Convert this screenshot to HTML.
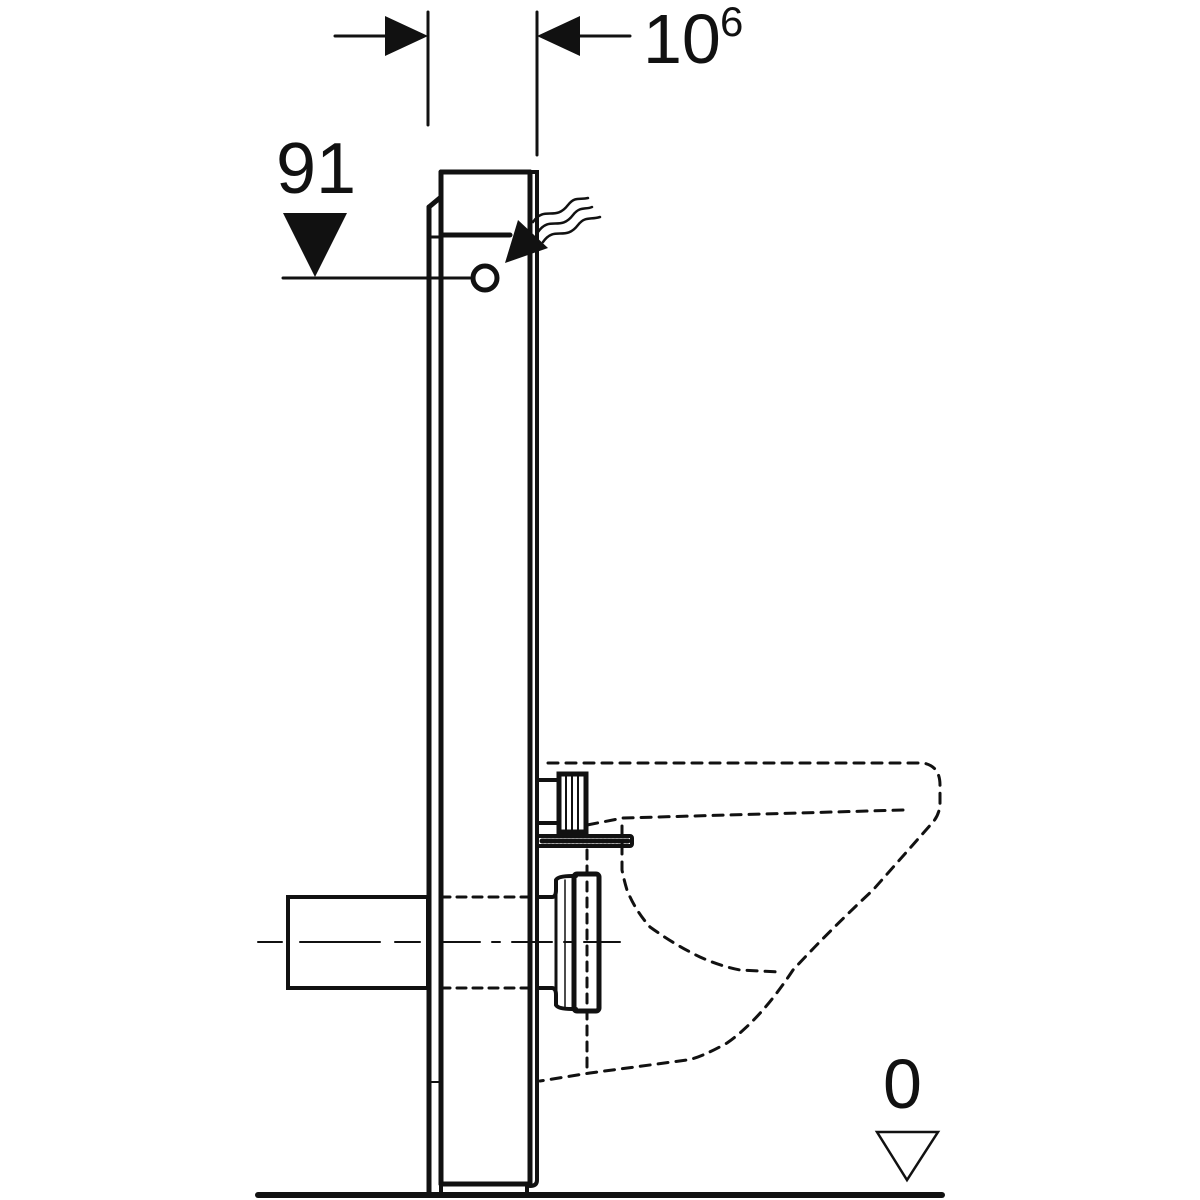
<!DOCTYPE html>
<html><head><style>body{margin:0;background:#fff}svg{display:block}</style></head><body>
<svg width="1200" height="1200" viewBox="0 0 1200 1200" xmlns="http://www.w3.org/2000/svg">
<rect width="1200" height="1200" fill="#fff"/>
<g stroke="#111" fill="none" stroke-linecap="round">
<line x1="428" y1="12" x2="428" y2="125" stroke-width="3"/>
<line x1="537" y1="12" x2="537" y2="155" stroke-width="3"/>
<line x1="335" y1="36" x2="390" y2="36" stroke-width="3"/>
<line x1="575" y1="36" x2="630" y2="36" stroke-width="3"/>
<line x1="429" y1="207" x2="429" y2="1192" stroke-width="5"/>
<polyline points="429,207 441,197" stroke-width="5"/>
<line x1="441" y1="172" x2="441" y2="1184" stroke-width="5"/>
<line x1="441" y1="172" x2="530" y2="172" stroke-width="5"/>
<line x1="530" y1="172" x2="530" y2="1184" stroke-width="5"/>
<path d="M530,172 L537,172 L537,1180 Q537,1186 530,1186" stroke-width="4"/>
<line x1="441" y1="1184" x2="530" y2="1184" stroke-width="5"/>
<line x1="441" y1="1184" x2="441" y2="1194" stroke-width="4"/>
<line x1="527" y1="1184" x2="527" y2="1194" stroke-width="4"/>
<line x1="429" y1="1082" x2="441" y2="1082" stroke-width="2"/>
<line x1="429" y1="237" x2="441" y2="237" stroke-width="3"/>
<line x1="441" y1="235" x2="510" y2="235" stroke-width="5"/>
<line x1="258" y1="1195" x2="942" y2="1195" stroke-width="6"/>
<line x1="283" y1="278" x2="470" y2="278" stroke-width="3"/>
<circle cx="485" cy="278" r="12" stroke-width="5"/>
<path d="M533,222 C545,205 555,222 568,205 C575,196 580,200 588,198" stroke-width="2.5"/>
<path d="M538,232 C550,215 560,232 573,215 C580,206 585,210 592,207" stroke-width="2.5"/>
<path d="M543,242 C555,225 565,242 578,225 C585,216 590,220 600,217" stroke-width="2.5"/>
<rect x="288" y="897" width="140" height="91" stroke-width="4"/>
<line x1="258" y1="942" x2="282" y2="942" stroke-width="2"/>
<line x1="300" y1="942" x2="380" y2="942" stroke-width="2"/>
<line x1="395" y1="942" x2="420" y2="942" stroke-width="2"/>
<line x1="440" y1="942" x2="620" y2="942" stroke-width="2" stroke-dasharray="40,12,8,12"/>
<line x1="441" y1="897" x2="550" y2="897" stroke-width="3" stroke-dasharray="9,7"/>
<line x1="441" y1="988" x2="550" y2="988" stroke-width="3" stroke-dasharray="9,7"/>
<path d="M537,897 L552,897 Q556,897 556,890 L556,880 Q558,876 572,876 L576,876" stroke-width="4"/>
<path d="M537,988 L552,988 Q556,988 556,995 L556,1005 Q558,1009 572,1009 L576,1009" stroke-width="4"/>
<line x1="556" y1="882" x2="556" y2="1004" stroke-width="3"/>
<line x1="565" y1="880" x2="565" y2="1007" stroke-width="1.5"/>
<rect x="574" y="874" width="25" height="137" rx="3" stroke-width="5"/>
<line x1="587" y1="850" x2="587" y2="1073" stroke-width="3" stroke-dasharray="9,7"/>
<line x1="537" y1="780" x2="558" y2="780" stroke-width="4"/>
<line x1="537" y1="823" x2="558" y2="823" stroke-width="4"/>
<rect x="559" y="774" width="27" height="58" stroke-width="5"/>
<line x1="566" y1="776" x2="566" y2="830" stroke-width="2"/>
<line x1="572" y1="776" x2="572" y2="830" stroke-width="2"/>
<line x1="578" y1="776" x2="578" y2="830" stroke-width="2"/>
<rect x="537" y="836" width="95" height="10" rx="2" stroke-width="4"/>
<line x1="542" y1="841" x2="628" y2="841" stroke-width="5" stroke-dasharray="2,2"/>
<g stroke-width="3" stroke-dasharray="10,8">
<path d="M548,763 L923,763 Q940,766 940,785 L940,805 Q939,815 933,822 L873,890 Q830,930 793,970 Q760,1020 727,1043 Q700,1058 687,1060 L590,1073 L540,1081"/>
<path d="M903,810 L623,818 L587,825"/>
<path d="M622,826 L622,870 Q624,880 627,890 Q635,910 650,927 Q675,945 700,957 Q720,966 740,970 L780,972"/>
</g>
</g>
<polygon points="428,36 385,16 385,56" fill="#111"/>
<polygon points="537,36 580,16 580,56" fill="#111"/>
<polygon points="283,213 347,213 315,277" fill="#111"/>
<polygon points="505,263 518,220 548,248" fill="#111"/>
<polygon points="877,1132 938,1132 907,1180" fill="none" stroke="#111" stroke-width="2.5"/>
<g font-family="Liberation Sans, sans-serif" fill="#111">
<text x="643" y="63" font-size="70">10</text>
<text x="720" y="36" font-size="42">6</text>
<text x="276" y="193" font-size="72">91</text>
<text x="883" y="1108" font-size="70">0</text>
</g>
</svg>
</body></html>
